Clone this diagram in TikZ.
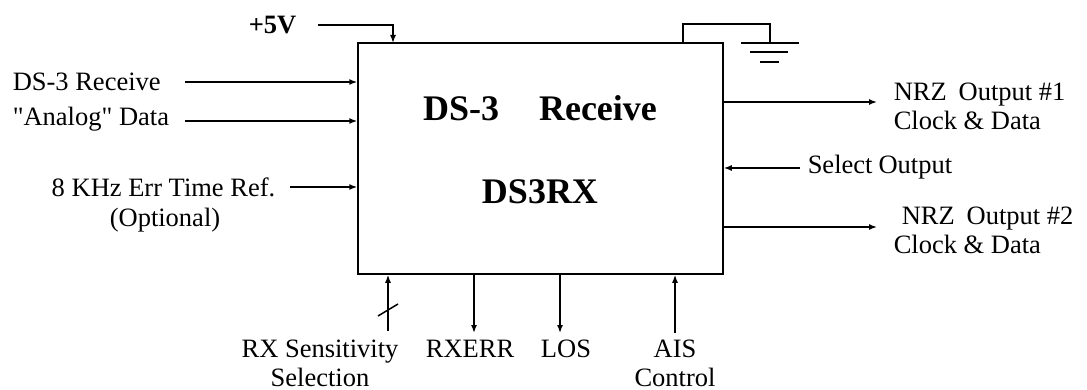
\documentclass[tikz,border=0pt]{standalone}
\usepackage{fontspec}
\setmainfont{Liberation Serif}
\usetikzlibrary{arrows.meta}

\begin{document}
\begin{tikzpicture}[x=1pt,y=-1pt,line width=1.5pt,
		>={Latex[length=8pt,width=6pt]},
		lbl/.style={inner sep=0pt,font=\fontsize{26.5}{29}\selectfont},
		title/.style={inner sep=0pt,font=\fontsize{36}{40}\selectfont\bfseries}]
			\useasboundingbox (0,0) rectangle (1087,390);
			
			\node[draw,minimum width=365pt,minimum height=231pt,inner sep=0pt] (rx) at (540.5,158.5) {};
			\node[title] (name) at (540,108) {DS-3\hspace{40pt}Receive};
			\node[title] (part) at (540,192) {DS3RX};
			
			% supply and ground
			\node[lbl,font=\fontsize{26.5}{29}\selectfont\bfseries,anchor=east] (vcc) at (297,25) {+5V};
			\coordinate (vccin) at (393,43);
			\draw[->] ([xshift=21pt]vcc.east) -| (vccin);
			\coordinate (gndtap) at (683,43);
			\coordinate (gnd) at (770,43);
			\draw (gndtap) -- ++(0,-19) -| (gnd);
			\draw (741,43) -- (799,43);
			\draw (750,52) -- (788,52);
			\draw (760,62) -- (779,62);
			
			% inputs
			\node[lbl,anchor=west] (ana1) at (12,82) {DS-3 Receive};
			\node[lbl,anchor=west] (ana2) at (12,119) {\textquotedbl Analog\textquotedbl{} Data};
			\node[lbl,anchor=east] (ref) at (276,187) {8 KHz Err Time Ref.};
			\node[lbl] (opt) at (165,220) {(Optional)};
			\coordinate (a1) at (185,82);
			\coordinate (a2) at (185,121);
			\coordinate (r1) at (290,187);
			\draw[->] (a1) -- (a1 -| rx.west);
			\draw[->] (a2) -- (a2 -| rx.west);
			\draw[->] (r1) -- (r1 -| rx.west);
			
			% outputs
			\node[lbl,anchor=west,align=left] (out1) at (893,106) {NRZ\hspace{12pt}Output \#1\\Clock \& Data};
			\node[lbl,anchor=west,align=left] (out2) at (893,230) {\hspace{8pt}NRZ\hspace{12pt}Output \#2\\Clock \& Data};
			\node[lbl,anchor=west] (sel) at (807,167) {Select\hspace{6pt}Output};
			\coordinate (o1) at (877,102);
			\coordinate (o2) at (877,227);
			\coordinate (s1) at (800,168);
			\draw[->] (o1 -| rx.east) -- (o1);
			\draw[->] (o2 -| rx.east) -- (o2);
			\draw[->] (s1) -- (s1 -| rx.east);
			
			% bottom signals
			\node[lbl,align=center] (sens) at (320,363) {RX Sensitivity\\Selection};
			\node[lbl] (err) at (470,349) {RXERR};
			\node[lbl] (los) at (566,349) {LOS};
			\node[lbl,align=center] (ais) at (675,363) {AIS\\Control};
			\coordinate (b1) at (388,331);
			\coordinate (b2) at (474,333);
			\coordinate (b3) at (560,333);
			\coordinate (b4) at (675,333);
			\draw[->] (b1) -- (b1 |- rx.south);
			\draw (378,316) -- (398,304);
			\draw[->] (b2 |- rx.south) -- (b2);
			\draw[->] (b3 |- rx.south) -- (b3);
			\draw[->] (b4) -- (b4 |- rx.south);
\end{tikzpicture}
\end{document}
